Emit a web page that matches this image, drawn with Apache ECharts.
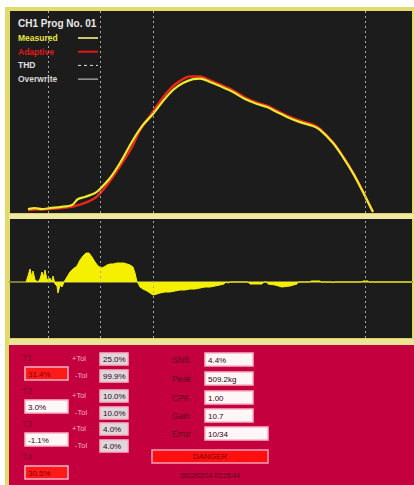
<!DOCTYPE html>
<html><head><meta charset="utf-8">
<script src="https://cdn.jsdelivr.net/npm/echarts/dist/echarts.min.js"></script>
<style>
html,body{margin:0;padding:0;background:#fff;width:414px;height:485px;overflow:hidden;}
#frame{position:absolute;left:5px;top:7px;width:409px;height:478px;background:#e2da6a;}
#chart{position:absolute;left:0;top:0;width:414px;height:485px;}
</style></head><body>
<div id="frame"></div><div id="chart"></div>
<script>
// ---- data ----
const measuredTime  = [18,25,32,40,50,62,68,75,85,90,100,110,123,133,143,153,163,173,183,190,200,210,223,235,247,257,267,277,290,303,310,323,333,343,352,357,363];
const measuredForce = [5,9,5,9,13,21,44,52,67,83,125,183,272,330,372,422,465,492,507,509,496,480,457,430,411,399,380,361,341,326,311,260,206,144,79,40,-6];
const adaptiveTime  = [18,40,52,65,75,85,93,102,112,122,130,140,150,160,170,180,190,200,210,223,235,247,257,267,277,290,303,310,323,333,343,352,357,363];
const adaptiveForce = [2,5,9,17,29,48,79,125,183,245,310,365,420,468,500,517,517,502,486,463,436,416,404,385,366,346,331,315,263,208,145,80,40,-6];
const residualTime  = [16,18,20,22,23,25,28,30,32,34,35,37,40,42,43,45,47,48,50,52,54,57,60,63,67,70,73,76,79,82,85,88,91,94,97,100,103,107,110,114,117,120,123,125,127,128,130,133,137,140,143,147,150,155,160,165,170,175,180,185,190,195,200,205,210,214,216,218,220,238,240,252,254,257,258,265,272,280,287,288,300,301,310,311,322,323,324,352,353,358,359,402];
const residualValue = [0,6,13,4,11,2,0,3,10,5,12,2,4,0,6,-2,-4,-11,-3,-5,0,5,10,13,16,22,26,29,29,25,20,16,14,15,17,18,18,19,19,19,18,17,15,9,0,-1,-5,-7,-9,-11,-13,-12,-11,-10,-10,-9,-8,-8,-7,-7,-6,-5,-5,-4,-3,-2,0,-1,0,0,-2,-2,0,0,-2,-3,-5,-4,-2,0,0,1,1,0,0,-1,0,0,1,1,0,0];
const markerTimes = [38, 90, 143, 355];
const headerText = 'CH1 Prog No. 01';
const legendLabels = ['Measured', 'Adaptive', 'THD', 'Overwrite'];
const stepLabels = ['T1', 'T2', 'T3', 'T4'];
const stepValues = ['31.4%', '3.0%', '-1.1%', '30.5%'];
const stepAlarm  = [true, false, false, true];
const tolPlus  = ['25.0%', '10.0%', '4.0%'];
const tolMinus = ['99.9%', '10.0%', '4.0%'];
const resultLabels = ['Shift', 'Peak', 'CPK', 'Gain', 'Error'];
const resultValues = ['4.4%', '509.2kg', '1.00', '10.7', '10/34'];
const statusText = 'DANGER';
const stampText = '2022/02/14 02:26:44';

// ---- chart ----
const chart = echarts.init(document.getElementById('chart'), null, {renderer: 'svg'});
const pair = (xs, ys) => xs.map((x, i) => [x, ys[i]]);
const FONT = 'Liberation Sans, Arial, sans-serif';
const g = [];
const txt = (x, y, t, fill, size, weight, align) => g.push({type:'text', x, y, z:10,
  style:{text:t, fill, font:(weight||'normal')+' '+size+'px '+FONT, textAlign:align||'left', textVerticalAlign:'middle', verticalAlign:'middle'}});
const rect = (x, y, w, h, fill, stroke, lw) => g.push({type:'rect', z:5, shape:{x, y, width:w, height:h},
  style:{fill, stroke:stroke||null, lineWidth:lw||0}});
const line = (x1, y1, x2, y2, stroke, lw, dash) => g.push({type:'line', z:10, shape:{x1, y1, x2, y2},
  style:{stroke, lineWidth:lw, lineDash:dash||null}});
const box = (x, y, w, h, fill, t, color) => {
  rect(x, y, w, h, fill, '#f3b4c6', 1.5);
  txt(x + 3, y + h/2 + 0.5, t, color || '#2a0810', 8, 'normal');
};

// separators
rect(9, 213, 405, 6, '#efe9a2');
rect(9, 338, 405, 7, '#ece598');
line(9, 213.5, 414, 213.5, '#d9d068', 1);
line(9, 338.5, 414, 338.5, '#d9d068', 1);
// crimson panel
rect(9, 345, 405, 140, '#c5003e');

// legend in top panel
txt(18, 23, headerText, '#e8e8e8', 10, 'bold');
const legColors = ['#e6e63a', '#e01818', '#e0e0e0', '#d8d8d8'];
legendLabels.forEach((l, i) => {
  const y = 38 + i * 13.7;
  txt(18, y, l, legColors[i], 8.5, 'bold');
  line(78, y, 98, y, i === 0 ? '#c8c870' : legColors[i], i < 2 ? 2 : 1, i === 2 ? [3, 3] : null);
});

// step values
const stepY = [367, 400, 433, 466];
stepLabels.forEach((l, i) => {
  txt(22, stepY[i] - 9, l, '#7a0a2c', 8.5, 'normal');
  box(25, stepY[i], 43, 13, stepAlarm[i] ? '#ff1a1a' : '#fff6f8', stepValues[i], stepAlarm[i] ? '#800010' : '#2a0810');
});
const tolY = [353, 390, 423];
tolPlus.forEach((t, i) => {
  txt(72, tolY[i] + 5, '+Tol', '#f0b0c4', 7.5, 'normal');
  txt(75, tolY[i] + 22, '-Tol', '#f0b0c4', 7.5, 'normal');
  box(100, tolY[i], 28, 12, '#ddd6da', t);
  box(100, tolY[i] + 17, 28, 12, '#ddd6da', tolMinus[i]);
});
const resY = [353, 372, 391, 409, 427];
resultLabels.forEach((l, i) => {
  txt(172, resY[i] + 6.5, l, '#5c0420', 8.5, 'normal');
  box(205, resY[i], i === 4 ? 63 : 48, 13, '#fff6f8', resultValues[i]);
});
rect(152, 450, 116, 13, '#ff0f0f', '#f3a0b8', 1.5);
txt(210, 456.5, statusText, '#7a0010', 8, 'normal', 'center');
txt(210, 475, stampText, '#4a0418', 6.5, 'normal', 'center');

const markLineCfg = {
  silent: true, symbol: 'none', label: {show: false},
  lineStyle: {color: '#a8a8a8', type: [2, 3], width: 1},
  data: markerTimes.map(t => ({xAxis: t}))
};
const xAx = (gi) => ({type:'value', gridIndex:gi, min:0, max:402, show:true,
  axisLine:{show:gi === 1, onZero:true, lineStyle:{color:'#7e7c3c', width:2}},
  axisTick:{show:false}, axisLabel:{show:false}, splitLine:{show:false}});

chart.setOption({
  animation: false,
  backgroundColor: 'transparent',
  grid: [
    {left:10, top:11, width:402, height:202, show:true, backgroundColor:'#1c1c1c', borderWidth:0},
    {left:10, top:219, width:402, height:119, show:true, backgroundColor:'#1c1c1c', borderWidth:0}
  ],
  xAxis: [xAx(0), xAx(1)],
  yAxis: [
    {type:'value', gridIndex:0, min:-10, max:770, show:false},
    {type:'value', gridIndex:1, min:-56, max:63, show:false}
  ],
  series: [
    {type:'line', xAxisIndex:0, yAxisIndex:0, data:[], markLine:markLineCfg},
    {type:'line', xAxisIndex:1, yAxisIndex:1, data:[], markLine:markLineCfg},
    {name:'Adaptive', type:'line', xAxisIndex:0, yAxisIndex:0, data:pair(adaptiveTime, adaptiveForce),
      smooth:0.3, showSymbol:false, lineStyle:{color:'#e8261a', width:2.5}, z:3},
    {name:'Measured', type:'line', xAxisIndex:0, yAxisIndex:0, data:pair(measuredTime, measuredForce),
      smooth:0.3, showSymbol:false, lineStyle:{color:'#ecec2e', width:2.2}, z:4},
    {name:'Residual', type:'line', xAxisIndex:1, yAxisIndex:1, data:pair(residualTime, residualValue),
      showSymbol:false, lineStyle:{color:'#f4f000', width:1}, areaStyle:{color:'#f4f000', opacity:1, origin:0}, z:4}
  ],
  graphic: {elements: g}
});
</script>
</body></html>
